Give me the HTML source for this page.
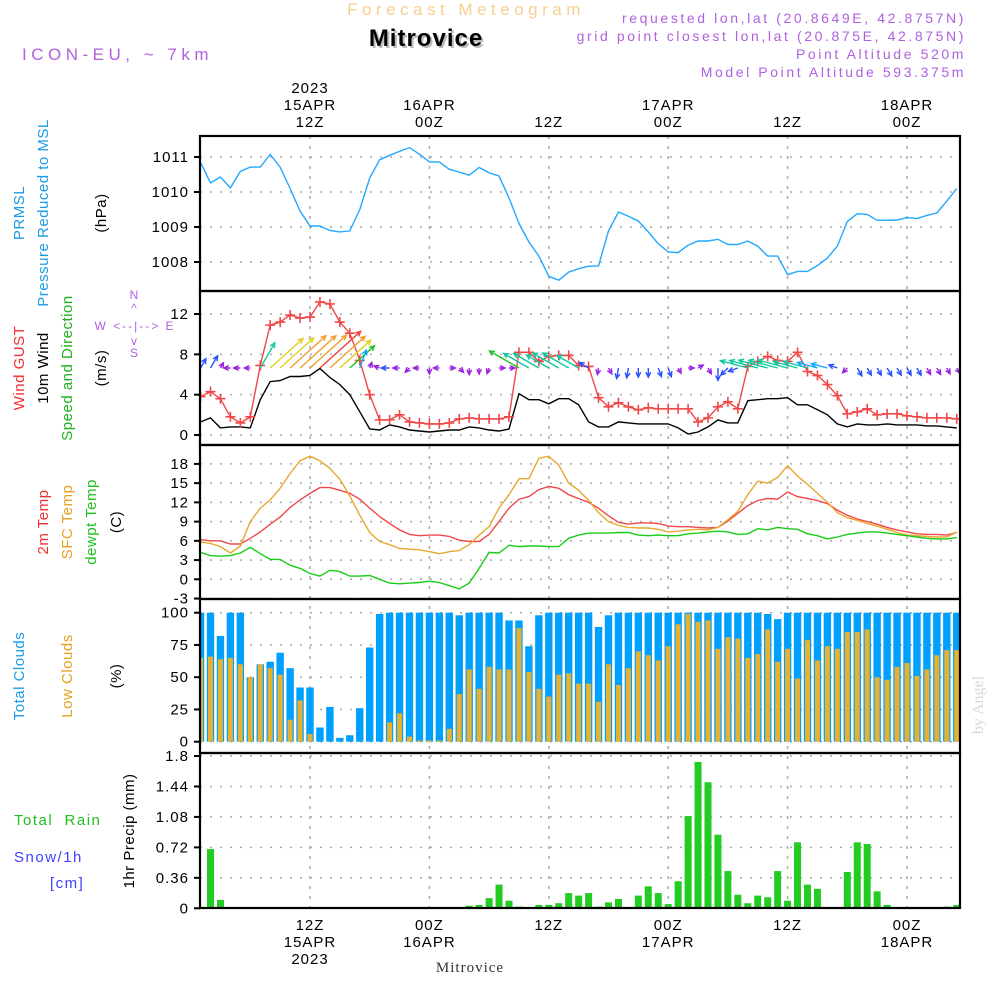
<!DOCTYPE html>
<html><head><meta charset="utf-8"><style>
body{margin:0;background:#fff;width:1000px;height:1000px;overflow:hidden}
svg{display:block;font-family:"Liberation Sans",sans-serif}
</style></head><body>
<svg id="chart" width="1000" height="1000" viewBox="0 0 1000 1000" xmlns="http://www.w3.org/2000/svg">
<defs><clipPath id="plotclip"><rect x="200" y="136" width="760" height="772"/></clipPath></defs>
<g>
<text x="466" y="15" text-anchor="middle" font-size="17" fill="#f7cf8f" letter-spacing="4.5">Forecast Meteogram</text>
<text x="428" y="48" text-anchor="middle" font-size="24" font-weight="bold" fill="#bbb" letter-spacing="1">Mitrovice</text>
<text x="426" y="46" text-anchor="middle" font-size="24" font-weight="bold" fill="#000" letter-spacing="1">Mitrovice</text>
<text x="22" y="60" font-size="17" fill="#b060e0" letter-spacing="4.5">ICON-EU, ~ 7km</text>
<g font-size="14" fill="#b060e0" text-anchor="end" letter-spacing="2.6">
<text x="966" y="23">requested lon,lat (20.8649E, 42.8757N)</text>
<text x="966" y="41">grid point closest lon,lat (20.875E, 42.875N)</text>
<text x="966" y="59">Point Altitude 520m</text>
<text x="966" y="77">Model Point Altitude 593.375m</text>
</g>
</g>
<g id="grid"></g>
<g id="marks" clip-path="url(#plotclip)"></g>
<g id="frames"></g>
<g id="labels" font-size="15" letter-spacing="1"></g>
<g font-size="15" letter-spacing="0.5">
<text transform="translate(24,213) rotate(-90)" text-anchor="middle" fill="#1a9be6">PRMSL</text>
<text transform="translate(48,213) rotate(-90)" text-anchor="middle" fill="#1a9be6">Pressure Reduced to MSL</text>
<text transform="translate(106,213) rotate(-90)" text-anchor="middle" fill="#000">(hPa)</text>
<text transform="translate(24,368) rotate(-90)" text-anchor="middle" fill="#f03030">Wind GUST</text>
<text transform="translate(48,368) rotate(-90)" text-anchor="middle" fill="#000">10m Wind</text>
<text transform="translate(72,368) rotate(-90)" text-anchor="middle" fill="#20b020">Speed and Direction</text>
<text transform="translate(106,368) rotate(-90)" text-anchor="middle" fill="#000">(m/s)</text>
<g fill="#b060e0" font-size="12" letter-spacing="2">
<text x="135" y="299" text-anchor="middle">N</text>
<text x="135" y="312" text-anchor="middle">^</text>
<text x="135" y="330" text-anchor="middle">W &lt;--|--&gt; E</text>
<text x="135" y="345" text-anchor="middle">v</text>
<text x="135" y="357" text-anchor="middle">S</text>
</g>
<text transform="translate(48,522) rotate(-90)" text-anchor="middle" fill="#f03030">2m Temp</text>
<text transform="translate(72,522) rotate(-90)" text-anchor="middle" fill="#e6a020">SFC Temp</text>
<text transform="translate(96,522) rotate(-90)" text-anchor="middle" fill="#20c020">dewpt Temp</text>
<text transform="translate(121,522) rotate(-90)" text-anchor="middle" fill="#000">(C)</text>
<text transform="translate(24,676) rotate(-90)" text-anchor="middle" fill="#1a9be6">Total Clouds</text>
<text transform="translate(72,676) rotate(-90)" text-anchor="middle" fill="#e6a020">Low Clouds</text>
<text transform="translate(121,676) rotate(-90)" text-anchor="middle" fill="#000">(%)</text>
<text x="14" y="825" fill="#20c020" xml:space="preserve" letter-spacing="1.5">Total  Rain</text>
<text x="14" y="862" fill="#4040ff" letter-spacing="1.5">Snow/1h</text>
<text x="50" y="888" fill="#4040ff" letter-spacing="1.5">[cm]</text>
<text transform="translate(134,831) rotate(-90)" text-anchor="middle" fill="#000">1hr Precip (mm)</text>
</g>
<text transform="translate(983,705) rotate(-90)" text-anchor="middle" font-family="Liberation Serif,serif" font-size="16" fill="#d8d8d8">by Angel</text>
<text x="470" y="972" text-anchor="middle" font-family="Liberation Serif,serif" font-size="15" fill="#333" letter-spacing="1">Mitrovice</text>
</svg>
<script>
const pressure=[1010.84,1010.26,1010.43,1010.12,1010.59,1010.71,1010.71,1011.07,1010.71,1010.1,
1009.45,1009.03,1009.03,1008.9,1008.86,1008.89,1009.5,1010.4,1010.92,1011.05,
1011.16,1011.27,1011.08,1010.86,1010.86,1010.65,1010.57,1010.48,1010.7,1010.55,
1010.46,1009.83,1009.1,1008.57,1008.17,1007.59,1007.48,1007.71,1007.81,1007.88,
1007.89,1008.89,1009.43,1009.31,1009.17,1008.86,1008.52,1008.29,1008.27,1008.48,
1008.6,1008.6,1008.65,1008.5,1008.5,1008.6,1008.45,1008.17,1008.17,1007.64,
1007.73,1007.73,1007.9,1008.11,1008.45,1009.16,1009.38,1009.36,1009.19,1009.19,
1009.2,1009.27,1009.24,1009.33,1009.4,1009.74,1010.1];
const gust=[3.8,4.3,3.6,1.8,1.2,1.8,6.9,10.9,11.2,11.9,
11.6,11.7,13.2,13.0,11.2,10.1,7.4,4.0,1.5,1.5,
2.0,1.3,1.2,1.1,1.1,1.2,1.6,1.7,1.6,1.6,
1.6,1.8,8.2,8.2,7.3,7.8,7.9,7.9,6.9,6.8,
3.7,2.8,3.2,2.8,2.5,2.7,2.6,2.6,2.6,2.6,
1.3,1.7,2.8,3.3,2.6,6.8,7.3,7.8,7.4,7.3,
8.2,6.3,5.9,5.0,3.9,2.1,2.3,2.6,2.0,2.1,
2.1,1.9,1.8,1.7,1.7,1.7,1.6];
const wind=[1.3,1.7,0.7,0.8,0.8,0.7,3.5,5.3,5.4,5.8,
5.8,5.9,6.6,5.7,5.0,4.0,2.3,0.6,0.5,1.0,
0.8,0.5,0.4,0.3,0.4,0.5,0.5,0.8,0.7,0.5,
0.4,0.6,4.1,3.5,3.5,3.1,3.6,3.6,3.0,1.3,
0.8,0.8,1.3,1.2,1.1,1.1,1.1,1.1,0.7,0.1,
0.3,0.8,1.5,1.2,1.2,3.4,3.5,3.6,3.6,3.7,
3.0,3.0,2.5,2.0,1.1,0.8,1.1,1.0,1.0,1.1,
1.0,1.0,1.0,0.9,0.9,0.8,0.7];
const windToward=[60,60,60,180,180,180,60,42,42,42,
42,42,42,42,42,42,70,70,160,180,
180,225,180,270,180,0,315,270,270,250,
0,0,150,150,150,150,150,150,150,150,
260,300,260,260,270,270,290,290,300,0,
30,300,270,225,200,165,165,165,165,165,
165,165,165,165,160,225,300,300,300,300,
300,300,300,300,300,300,300];
const temp2m=[6.2,6.0,6.0,5.5,5.5,6.4,7.4,8.6,9.7,11.2,
12.4,13.4,14.3,14.3,13.9,13.4,12.5,11.1,9.8,8.7,
7.7,7.0,6.8,6.9,6.9,6.7,6.1,5.9,5.9,7.0,
9.0,11.1,12.5,12.9,14.0,14.5,14.2,13.2,12.6,12.0,
11.1,9.9,8.9,8.6,8.8,8.8,8.7,8.3,8.2,8.2,
8.1,8.0,8.1,9.1,10.3,11.5,12.3,12.6,12.5,13.6,
12.9,12.6,12.3,11.8,10.8,10.0,9.4,9.0,8.6,8.1,
7.7,7.4,7.1,7.0,7.0,6.9,7.3];
const tempSfc=[5.8,5.6,5.1,4.1,5.2,9.0,11.1,12.4,14.2,16.5,
18.5,19.2,18.5,17.3,15.6,13.0,10.0,7.3,5.9,5.4,
4.8,4.7,4.6,4.3,4.0,4.3,4.5,5.4,6.9,8.2,
11.1,13.2,15.7,15.7,18.9,19.2,17.8,15.0,13.9,12.3,
10.4,9.0,8.4,8.1,8.0,8.0,7.8,7.4,7.5,7.7,
7.8,7.7,8.1,9.3,10.6,13.2,15.3,15.0,15.9,17.7,
16.1,14.8,13.4,12.0,10.4,9.6,9.2,8.7,8.3,7.8,
7.3,6.9,6.8,6.7,6.6,6.6,7.4];
const dewpt=[4.2,3.7,3.6,3.7,4.1,5.0,4.0,3.1,3.1,2.2,
1.7,0.9,0.5,1.4,1.2,0.5,0.5,0.6,0,-0.6,
-0.7,-0.6,-0.5,-0.3,-0.5,-1.0,-1.5,-0.6,1.7,4.2,
4.1,5.3,5.1,5.2,5.2,5.1,5.1,6.4,6.9,7.2,
7.2,7.2,7.3,7.3,6.9,6.8,6.9,6.8,6.8,7.1,
7.2,7.4,7.5,7.4,7.0,7.1,7.9,7.7,8.1,7.9,
7.8,7.1,6.8,6.3,6.6,7.0,7.2,7.4,7.4,7.2,
7.0,6.8,6.6,6.4,6.3,6.3,6.5];
const totalClouds=[100,100,82,100,100,50,60,62,69,57,
42,42,11,27,3,5,26,73,99,100,
100,100,100,100,100,100,98,100,100,100,
100,94,94,74,98,100,100,100,100,100,
89,98,100,100,100,100,100,100,100,100,
100,100,100,100,100,100,100,99,95,100,
100,100,100,100,100,100,100,100,100,100,
100,100,100,100,100,100,100];
const lowClouds=[65,66,64,65,60,50,60,57,52,17,
32,6,0,0,0,0,0,0,0,15,
22,4,1,1,1,10,37,56,41,58,
56,56,88,54,41,35,52,53,45,45,
31,60,44,57,70,67,63,74,91,99,
93,94,72,81,80,65,68,87,62,72,
49,79,63,74,72,85,85,87,50,48,
58,61,51,56,67,71,71];
const precip=[0,0.70,0.10,0,0,0,0,0,0,0,
0,0,0,0,0,0,0,0,0,0,
0,0,0,0,0,0,0,0.03,0.04,0.12,
0.28,0.09,0.02,0,0.04,0.04,0.06,0.18,0.15,0.18,
0.02,0.07,0.11,0,0.15,0.26,0.18,0.05,0.32,1.09,
1.73,1.49,0.87,0.44,0.16,0.06,0.15,0.13,0.44,0.09,
0.78,0.28,0.23,0,0,0.43,0.78,0.76,0.2,0.04,
0,0,0,0,0,0.02,0.04];
const pressureTicks=["1011","1010","1009","1008"];
const windTicks=["0","4","8","12"];
const tempTicks=["18","15","12","9","6","3","0","-3"];
const cloudTicks=["0","25","50","75","100"];
const precipTicks=["0","0.36","0.72","1.08","1.44","1.8"];
const timeHours=[12,24,36,48,60,72];
const topLabels=[["2023","15APR","12Z"],["","16APR","00Z"],["","","12Z"],["","17APR","00Z"],["","","12Z"],["","18APR","00Z"]];
const bottomLabels=[["12Z","15APR","2023"],["00Z","16APR",""],["12Z","",""],["00Z","17APR",""],["12Z","",""],["00Z","18APR",""]];

const NS="http://www.w3.org/2000/svg";
function mk(tag,attrs,parent){const e=document.createElementNS(NS,tag);for(const k in attrs)e.setAttribute(k,attrs[k]);parent.appendChild(e);return e;}
const X=h=>310+(h-12)*9.95;
const hourOf=i=>i+1;
const yP=v=>157+(1011-v)*35;
const yW=v=>435-v*10.08;
const yT=v=>579.3-v*6.41;
const yC=v=>741.7-v*1.29;
const yR=v=>908.3-v*84.6;
const grid=document.getElementById('grid'),marks=document.getElementById('marks'),frames=document.getElementById('frames'),labels=document.getElementById('labels');
const L=200,R=960;
function hgrid(vals,fy,name){vals.forEach(t=>{const y=fy(parseFloat(t));
const g=mk('line',{x1:L,x2:R,y1:y,y2:y,stroke:'#aaa','stroke-width':1.5,'stroke-dasharray':'2 8'},grid);


const tx=mk('text',{x:189,y:y+5,'text-anchor':'end'},labels);tx.textContent=t;


const tk=mk('line',{x1:194,x2:200,y1:y,y2:y,stroke:'#000','stroke-width':2},labels);

});}
hgrid(pressureTicks,yP,'pressure');hgrid(windTicks,yW,'wind');hgrid(tempTicks,yT,'temp');hgrid(cloudTicks,yC,'cloud');hgrid(precipTicks,yR,'precip');
timeHours.forEach((h,i)=>{const x=X(h);
const v=mk('line',{x1:x,x2:x,y1:136,y2:908,stroke:'#aaa','stroke-width':1.5,'stroke-dasharray':'3 7'},grid);


topLabels[i].forEach((s,j)=>{if(!s)return;const t=mk('text',{x:x,y:93+j*17,'text-anchor':'middle'},labels);t.textContent=s;

});
bottomLabels[i].forEach((s,j)=>{if(!s)return;const t=mk('text',{x:x,y:930+j*17,'text-anchor':'middle'},labels);t.textContent=s;

});});
[[136,291],[291,445],[445,599],[599,753],[753,908]].forEach((p,i)=>{const r=mk('rect',{x:L,y:p[0],width:R-L,height:p[1]-p[0],fill:'none',stroke:'#000','stroke-width':2.2},frames);

});
function line(arr,fy,color,name){const pts=arr.map((v,i)=>X(hourOf(i)).toFixed(1)+','+fy(v).toFixed(1)).join(' ');
const p=mk('polyline',{points:pts,fill:'none',stroke:color,'stroke-width':1.4},marks);

}
line(pressure,yP,'#22a8ff','pressure-line');
totalClouds.forEach((v,i)=>{const x=X(hourOf(i));
const b=mk('rect',{x:x-3.7,y:yC(v),width:7.4,height:yC(0)-yC(v),fill:'#00a0ff'},marks);

});
lowClouds.forEach((v,i)=>{const x=X(hourOf(i));if(v<=0)return;
const b=mk('rect',{x:x-2.5,y:yC(v),width:5,height:yC(0)-yC(v),fill:'#e6b030'},marks);

});
precip.forEach((v,i)=>{const x=X(hourOf(i));if(v<=0)return;
const b=mk('rect',{x:x-3.5,y:yR(v),width:7,height:yR(0)-yR(v),fill:'#22cc22'},marks);

});
const base=mk('line',{x1:L,x2:R,y1:yR(0),y2:yR(0),stroke:'#000','stroke-width':1},marks);


line(temp2m,yT,'#f04848','temp-2m-line');
line(tempSfc,yT,'#e8a830','temp-sfc-line');
line(dewpt,yT,'#18cc18','dewpoint-line');
line(wind,yW,'#000','wind-speed-line');
line(gust,yW,'#f04848','gust-line');
gust.forEach((v,i)=>{const x=X(hourOf(i)),y=yW(v);
const m=mk('path',{d:`M${x-5} ${y}H${x+5}M${x} ${y-5}V${y+5}`,stroke:'#f04848','stroke-width':1.6},marks);

});
function wcol(s){if(s<1)return'#9a20e0';if(s<2)return'#2a50ff';if(s<3)return'#10a8ff';if(s<4)return'#10c8a0';if(s<5)return'#20c020';if(s<5.5)return'#e0d020';if(s<6.2)return'#f0a030';return'#f04040';}
wind.forEach((s,i)=>{const x=X(hourOf(i)),y=368;const a=windToward[i]*Math.PI/180;const len=Math.max(6,s*8.3);
const ex=x+Math.cos(a)*len,ey=y-Math.sin(a)*len;const hl=5.5;
const a1=a+Math.PI-0.45,a2=a+Math.PI+0.45;
const d=`M${x.toFixed(1)} ${y}L${ex.toFixed(1)} ${ey.toFixed(1)}M${(ex+Math.cos(a1)*hl).toFixed(1)} ${(ey-Math.sin(a1)*hl).toFixed(1)}L${ex.toFixed(1)} ${ey.toFixed(1)}L${(ex+Math.cos(a2)*hl).toFixed(1)} ${(ey-Math.sin(a2)*hl).toFixed(1)}`;
const p=mk('path',{d:d,fill:'none',stroke:wcol(s),'stroke-width':1.4},marks);

});
</script>
</body></html>
